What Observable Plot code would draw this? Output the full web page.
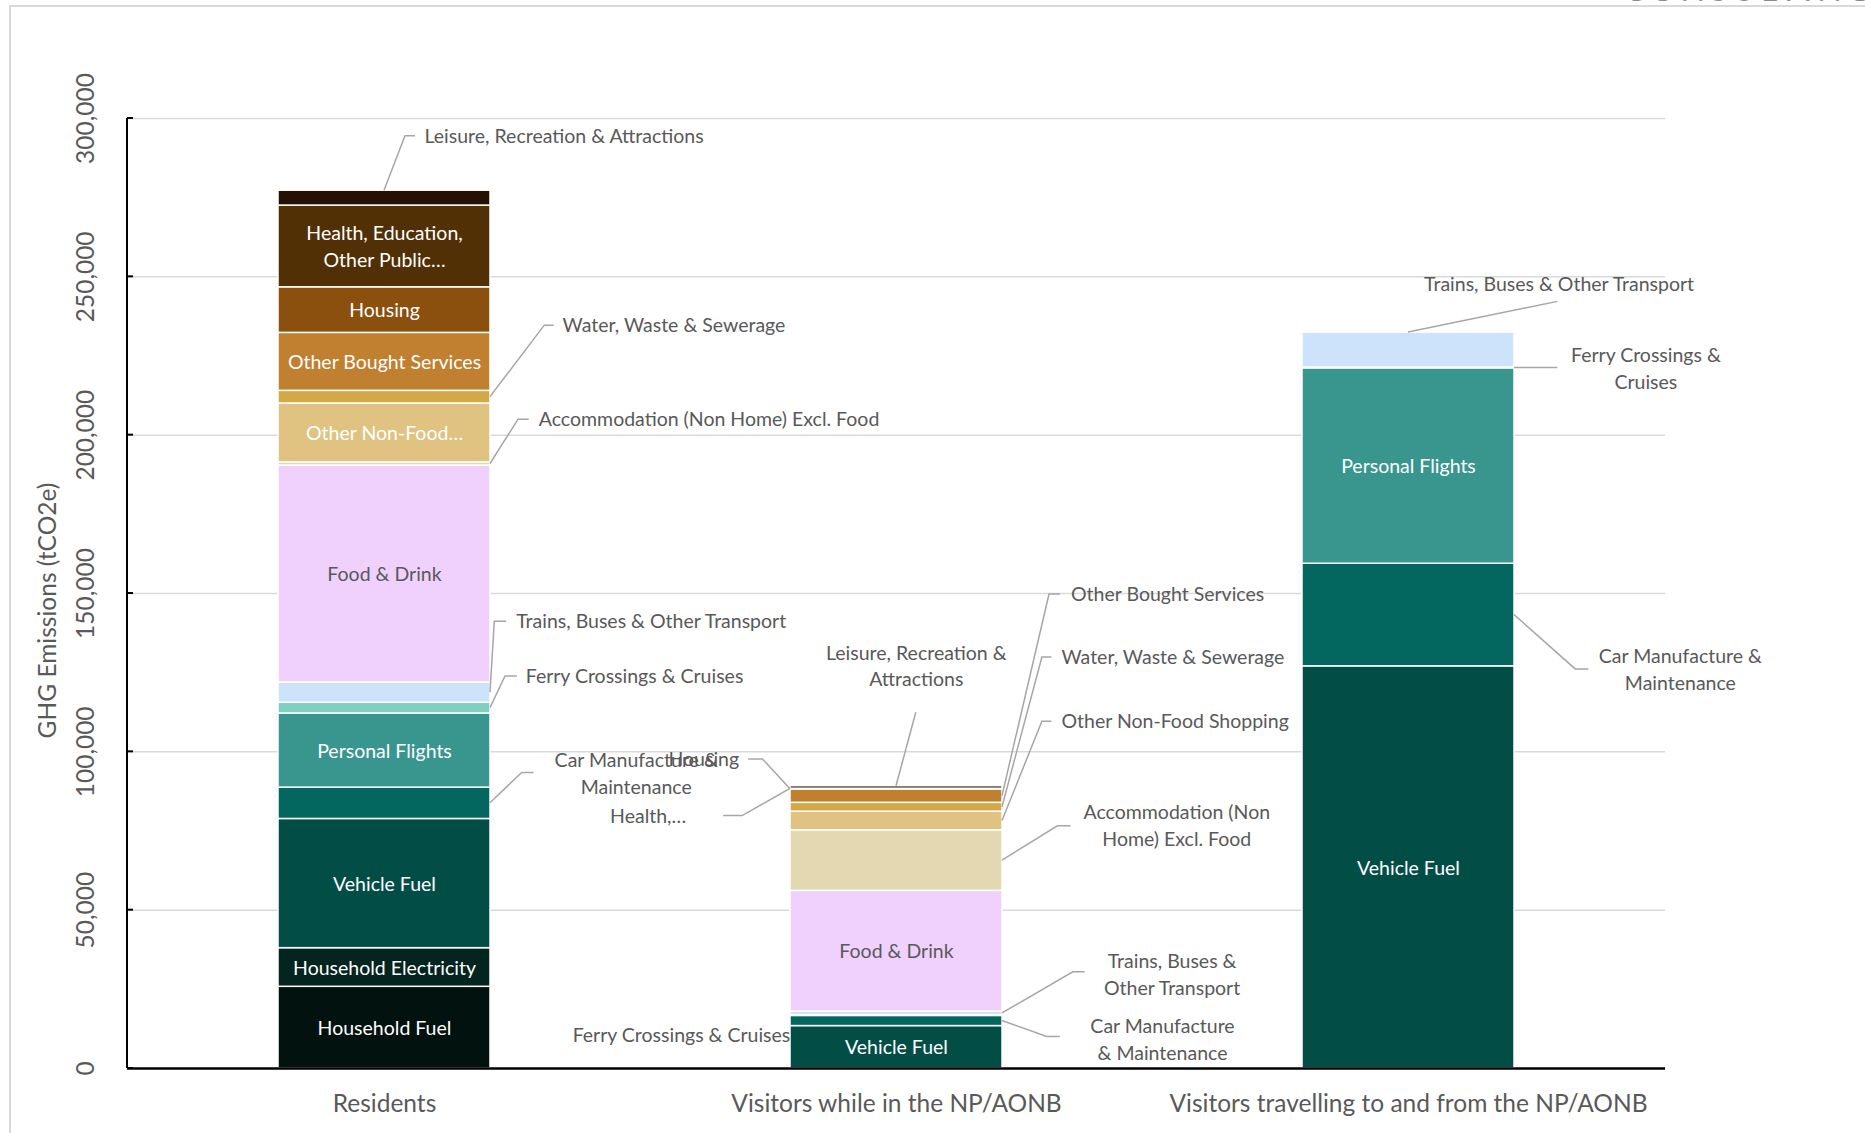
<!DOCTYPE html>
<html>
<head>
<meta charset="utf-8">
<script src="https://cdn.jsdelivr.net/npm/d3@7"></script>
<script src="https://cdn.jsdelivr.net/npm/@observablehq/plot@0.6"></script>
<style>
  html, body { margin: 0; padding: 0; background: #fff; }
  #wrap { position: relative; width: 1865px; height: 1133px; overflow: hidden; }
  #chart { position: absolute; left: 0; top: 0; }
  #brand { position: absolute; right: -10px; top: -27px; font: 32px Lato, sans-serif; letter-spacing: 5px; color: #8c8c8c; white-space: nowrap; line-height: 32px; }
  #border { position: absolute; left: 9px; top: 5px; right: -10px; bottom: -10px; border-left: 2px solid #d9d9d9; border-top: 2px solid #d9d9d9; }
</style>
</head>
<body>
<div id="wrap"><div id="chart"></div><div id="brand">CONSULTING</div><div id="border"></div></div>
<script>
// ---------- DATA ----------
const categories = [
  "Residents",
  "Visitors while in the NP/AONB",
  "Visitors travelling to and from the NP/AONB"
];
// stack order, bottom to top
const series = [
  "Household Fuel",
  "Household Electricity",
  "Vehicle Fuel",
  "Car Manufacture & Maintenance",
  "Personal Flights",
  "Ferry Crossings & Cruises",
  "Trains, Buses & Other Transport",
  "Food & Drink",
  "Accommodation (Non Home) Excl. Food",
  "Other Non-Food Shopping",
  "Water, Waste & Sewerage",
  "Other Bought Services",
  "Housing",
  "Health, Education, Other Public Services",
  "Leisure, Recreation & Attractions"
];
// tCO2e, same order as series
const residents      = [25800, 12200, 40800, 9900, 23400, 3400, 6400, 68500, 1000, 18600, 4000, 18300, 14400, 25800, 4700];
const visitorsIn     = [0, 0, 13400, 3200, 0, 200, 1200, 38100, 19100, 5900, 2800, 4200, 150, 100, 800];
const visitorsTravel = [0, 0, 127000, 32400, 61700, 300, 11000, 0, 0, 0, 0, 0, 0, 0, 0];
const seriesValues = [residents, visitorsIn, visitorsTravel];

const yTicks = [0, 50000, 100000, 150000, 200000, 250000, 300000];
const yTitle = "GHG Emissions (tCO2e)";

// ---------- STYLE / LAYOUT ----------
const seriesColors = [
  "#02120f", "#04241f", "#024e47", "#03675f", "#38968f", "#80cfc3", "#cde3fb",
  "#f0d1fe", "#e4d8b2", "#e0c381", "#d4a844", "#c08030", "#8b500e", "#523005", "#241102"
];
const labelGray = "#595959";
const FONT = "Lato, sans-serif";
const LABEL_SIZE = 19.5;
const AXIS_SIZE = 24.5;
const LABEL_SHIFT = -2; // vertical nudge for label baselines

// labels drawn inside segments
const innerLabels = [
  {cat: 0, s: "Household Fuel", text: "Household Fuel", fill: "white"},
  {cat: 0, s: "Household Electricity", text: "Household Electricity", fill: "white"},
  {cat: 0, s: "Vehicle Fuel", text: "Vehicle Fuel", fill: "white"},
  {cat: 0, s: "Personal Flights", text: "Personal Flights", fill: "white"},
  {cat: 0, s: "Food & Drink", text: "Food & Drink", fill: labelGray},
  {cat: 0, s: "Other Non-Food Shopping", text: "Other Non-Food…", fill: "white"},
  {cat: 0, s: "Other Bought Services", text: "Other Bought Services", fill: "white"},
  {cat: 0, s: "Housing", text: "Housing", fill: "white"},
  {cat: 0, s: "Health, Education, Other Public Services", text: "Health, Education,\nOther Public…", fill: "white"},
  {cat: 1, s: "Food & Drink", text: "Food & Drink", fill: labelGray},
  {cat: 1, s: "Vehicle Fuel", text: "Vehicle Fuel", fill: "white"},
  {cat: 2, s: "Personal Flights", text: "Personal Flights", fill: "white"},
  {cat: 2, s: "Vehicle Fuel", text: "Vehicle Fuel", fill: "white"}
];

// call-out labels: anchor side of the segment, leader path offsets (px from band centre / anchor y), text offset
const notes = [
  {cat: 0, s: "Leisure, Recreation & Attractions", side: "top", path: [[21, -54.4], [31, -54.4]], tx: 40, ty: -54.4, align: "start", text: "Leisure, Recreation & Attractions"},
  {cat: 0, s: "Water, Waste & Sewerage", side: "right", path: [[160.3, -71.5], [169.7, -71.5]], tx: 178.1, ty: -71.5, align: "start", text: "Water, Waste & Sewerage"},
  {cat: 0, s: "Accommodation (Non Home) Excl. Food", side: "right", path: [[134.1, -44.3], [144.7, -44.3]], tx: 154.3, ty: -44.3, align: "start", text: "Accommodation (Non Home) Excl. Food"},
  {cat: 0, s: "Trains, Buses & Other Transport", side: "right", path: [[110.3, -70.8], [122.2, -70.8]], tx: 131.7, ty: -70.8, align: "start", text: "Trains, Buses & Other Transport"},
  {cat: 0, s: "Ferry Crossings & Cruises", side: "right", path: [[121, -31.6], [132.9, -31.6]], tx: 141.2, ty: -31.6, align: "start", text: "Ferry Crossings & Cruises"},
  {cat: 0, s: "Car Manufacture & Maintenance", side: "right", path: [[137.7, -30.4], [149.6, -30.4]], tx: 251.7, ty: -29.4, align: "middle", text: "Car Manufacture &\nMaintenance"},
  {cat: 1, s: "Housing", side: "left", path: [[-133.6, -29.9], [-147.9, -29.9]], tx: -157.4, ty: -29.9, align: "end", text: "Housing"},
  {cat: 1, s: "Health, Education, Other Public Services", side: "left", path: [[-153.8, 27.2], [-172.8, 27.2]], tx: -248.4, ty: 27.2, align: "middle", text: "Health,…"},
  {cat: 1, s: "Leisure, Recreation & Attractions", side: "top", path: [[19.8, -73.4]], tx: 19.8, ty: -119.8, align: "middle", text: "Leisure, Recreation &\nAttractions"},
  {cat: 1, s: "Other Bought Services", side: "right", path: [[153, -201.7], [163.8, -201.7]], tx: 174.5, ty: -201.7, align: "start", text: "Other Bought Services"},
  {cat: 1, s: "Water, Waste & Sewerage", side: "right", path: [[145.9, -149.8], [155.4, -149.8]], tx: 165, ty: -149.8, align: "start", text: "Water, Waste & Sewerage"},
  {cat: 1, s: "Other Non-Food Shopping", side: "right", path: [[145.9, -99.3], [155.4, -99.3]], tx: 165, ty: -99.3, align: "start", text: "Other Non-Food Shopping"},
  {cat: 1, s: "Accommodation (Non Home) Excl. Food", side: "right", path: [[161.4, -34.3], [174.5, -34.3]], tx: 280.3, ty: -34.8, align: "middle", text: "Accommodation (Non\nHome) Excl. Food"},
  {cat: 1, s: "Trains, Buses & Other Transport", side: "right", path: [[176.8, -41.1], [188.7, -41.1]], tx: 275.6, ty: -38.6, align: "middle", text: "Trains, Buses &\nOther Transport"},
  {cat: 1, s: "Car Manufacture & Maintenance", side: "right", path: [[150.7, 16], [163.8, 16]], tx: 266, ty: 19, align: "middle", text: "Car Manufacture\n& Maintenance"},
  {cat: 1, s: "Ferry Crossings & Cruises", side: "left", path: [], tx: -106.2, ty: 20, align: "end", text: "Ferry Crossings & Cruises"},
  {cat: 2, s: "Trains, Buses & Other Transport", side: "top", path: [[149.4, -30.7]], tx: 150.6, ty: -48.5, align: "middle", text: "Trains, Buses & Other Transport"},
  {cat: 2, s: "Ferry Crossings & Cruises", side: "right", path: [[149.4, 0]], tx: 237.4, ty: 1.2, align: "middle", text: "Ferry Crossings &\nCruises"},
  {cat: 2, s: "Car Manufacture & Maintenance", side: "right", path: [[167.2, 54.4], [180.3, 54.4]], tx: 271.9, ty: 55, align: "middle", text: "Car Manufacture &\nMaintenance"}
];

// ---------- BUILD ----------
const table = [];
seriesValues.forEach((vals, ci) => {
  series.forEach((s, si) => {
    if (vals[si] > 0) table.push({category: categories[ci], series: s, value: vals[si]});
  });
});

function segment(ci, s) {
  const vals = seriesValues[ci];
  const si = series.indexOf(s);
  let y0 = 0;
  for (let i = 0; i < si; i++) y0 += vals[i];
  return [y0, y0 + vals[si]];
}
function anchorValue(n) {
  const [a, b] = segment(n.cat, n.s);
  return n.side === "top" ? b : (a + b) / 2;
}
function innerText(d, fill) {
  const l = innerLabels.find(l => categories[l.cat] === d.category && l.s === d.series && l.fill === fill);
  return l ? l.text : null;
}

function axisAndLeaders(index, scales, values, dimensions) {
  const g = d3.create("svg:g");
  const x = scales.x, y = scales.y;
  const bw = x.bandwidth();
  const left = dimensions.marginLeft;
  g.append("line")
    .attr("x1", left).attr("x2", left)
    .attr("y1", y(yTicks[yTicks.length - 1])).attr("y2", y(0))
    .attr("stroke", "#000").attr("stroke-width", 2);
  for (const t of yTicks) {
    g.append("line")
      .attr("x1", left).attr("x2", left + 6)
      .attr("y1", y(t)).attr("y2", y(t))
      .attr("stroke", "#000").attr("stroke-width", 2);
  }
  for (const n of notes) {
    if (!n.path.length) continue;
    const cx = x(categories[n.cat]) + bw / 2;
    const ay = y(anchorValue(n));
    const sx = n.side === "right" ? cx + bw / 2 : n.side === "left" ? cx - bw / 2 : cx;
    const pts = [[sx, ay], ...n.path.map(([dx, dy]) => [cx + dx, ay + dy])];
    g.append("path")
      .attr("d", d3.line()(pts))
      .attr("fill", "none")
      .attr("stroke", "#a6a6a6")
      .attr("stroke-width", 1.5);
  }
  return g.node();
}

const chart = Plot.plot({
  width: 1865,
  height: 1133,
  marginLeft: 127,
  marginRight: 200,
  marginTop: 118,
  marginBottom: 65,
  style: {fontFamily: FONT, background: "white", overflow: "hidden"},
  x: {type: "band", domain: categories, paddingInner: 0.585, paddingOuter: 0.2925, axis: null},
  y: {domain: [0, 300000], axis: null},
  color: {domain: series, range: seriesColors},
  marks: [
    Plot.ruleY(yTicks.filter(t => t > 0), {y: d => d, stroke: "#d9d9d9", strokeWidth: 1.5}),
    Plot.barY(table, {x: "category", y: "value", fill: "series", stroke: "white", strokeWidth: 1.5}),
    Plot.ruleY([0], {y: d => d, stroke: "#000", strokeWidth: 2.5}),
    axisAndLeaders,
    Plot.text(table, Plot.stackY({x: "category", y: "value", text: d => innerText(d, "white"), fill: "white", dy: LABEL_SHIFT + 0.5, fontSize: LABEL_SIZE, lineHeight: 1.38})),
    Plot.text(table, Plot.stackY({x: "category", y: "value", text: d => innerText(d, labelGray), fill: labelGray, dy: LABEL_SHIFT + 0.5, fontSize: LABEL_SIZE, lineHeight: 1.38})),
    ...notes.map(n => Plot.text([n], {
      x: () => categories[n.cat],
      y: () => anchorValue(n),
      dx: n.tx, dy: n.ty + LABEL_SHIFT,
      text: () => n.text,
      textAnchor: n.align,
      fill: labelGray,
      fontSize: LABEL_SIZE,
      lineHeight: 1.38
    })),
    Plot.text(yTicks, {y: d => d, text: d => d3.format(",")(d), frameAnchor: "left", textAnchor: "middle", lineAnchor: "middle", dx: -41.4, rotate: -90, fontSize: AXIS_SIZE, fill: labelGray}),
    Plot.text([yTitle], {text: d => d, frameAnchor: "left", textAnchor: "middle", lineAnchor: "middle", dx: -79.4, dy: 17, rotate: -90, fontSize: AXIS_SIZE, fill: labelGray}),
    Plot.text(categories, {x: d => d, text: d => d, frameAnchor: "bottom", textAnchor: "middle", lineAnchor: "middle", dy: 35.7, fontSize: AXIS_SIZE, fill: labelGray})
  ]
});
document.getElementById("chart").appendChild(chart);
</script>
</body>
</html>
